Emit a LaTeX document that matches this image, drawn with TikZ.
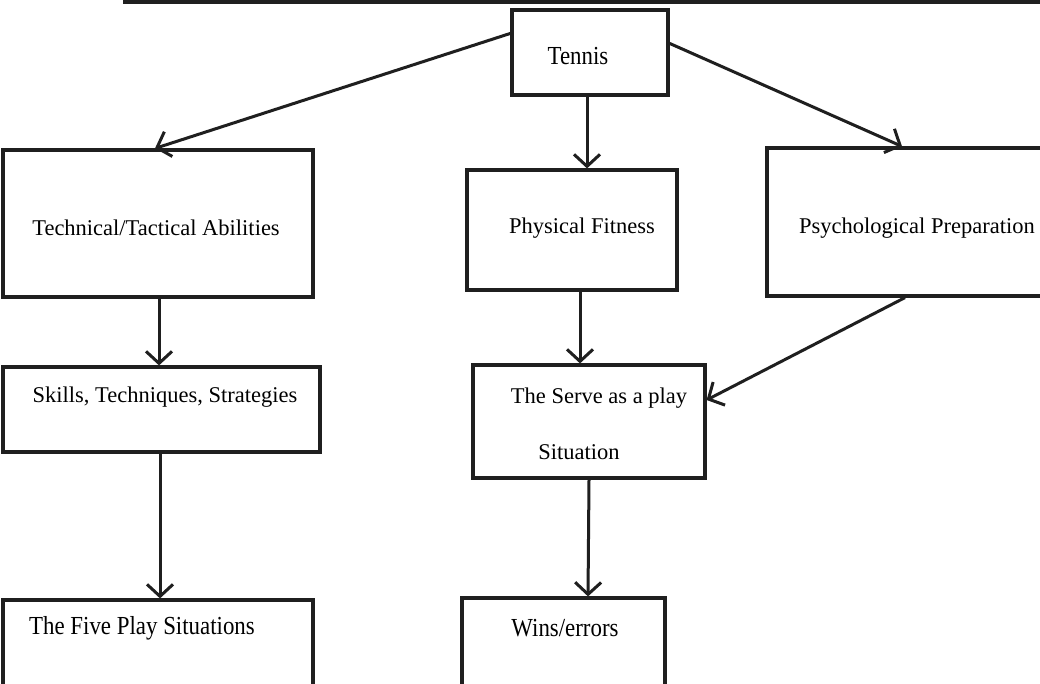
\documentclass[tikz,border=0pt]{standalone}
\usepackage{fontspec}
\setmainfont{Liberation Serif}
\newfontfamily\condfont[FakeStretch=0.88]{Liberation Serif}
\usetikzlibrary{arrows.meta}
\begin{document}
\begin{tikzpicture}[x=1pt,y=-1pt,
  box/.style={draw=black!88,line width=3.2pt,inner sep=0pt,fill=none},
  lbl/.style={font=\fontsize{22.5}{26}\selectfont,inner sep=0pt,text=black},
  clbl/.style={font=\condfont\fontsize{26}{30}\selectfont,inner sep=0pt,text=black},
  conn/.style={draw=black!88,line width=3pt,-{Straight Barb[length=12pt,width=26pt,line width=3pt]}}]
\useasboundingbox (0,0) rectangle (1040,684);
\clip (0,0) rectangle (1040,684);
\fill[white] (0,0) rectangle (1040,684);
% top rule
\fill[black!88] (123,0) rectangle (1040,4);
% boxes
\node[box,minimum width=156pt,minimum height=85pt] (tennis) at (590,52.5) {};
\node[box,minimum width=310pt,minimum height=147pt] (tech) at (158,223.5) {};
\node[box,minimum width=210pt,minimum height=120pt] (phys) at (572,230) {};
\node[box,minimum width=290pt,minimum height=148pt] (psych) at (912,222) {};
\node[box,minimum width=317pt,minimum height=85pt] (skills) at (161.5,409.5) {};
\node[box,minimum width=232pt,minimum height=113pt] (serve) at (589,421.5) {};
\node[box,minimum width=310pt,minimum height=100pt] (five) at (158,650) {};
\node[box,minimum width=203pt,minimum height=100pt] (wins) at (563.5,648) {};
% labels
\node[clbl] (tennisT) at (578,56) {Tennis};
\node[lbl] (techT) at (156,228) {Technical/Tactical Abilities};
\node[lbl] (physT) at (582,228) {Physical Fitness};
\node[lbl] (psychT) at (917,228) {Psychological Preparation};
\node[lbl] (skillsT) at (165,397) {Skills, Techniques, Strategies};
\node[lbl] (serveT1) at (599,398) {The Serve as a play};
\node[lbl] (serveT2) at (579,452) {Situation};
\node[clbl] (fiveT) at (142,628) {The Five Play Situations};
\node[clbl] (winsT) at (565,628) {Wins/errors};
% connectors
\coordinate (tL) at ([yshift=-25pt]tennis.north west);
\coordinate (tR) at ([yshift=-35pt]tennis.north east);
\draw[conn] (tL) -- ([xshift=-3pt]tech.north);
\draw[conn] (tR) -- ([xshift=-10pt]psych.north);
\draw[conn] ([xshift=-3pt]tennis.south) -- ([xshift=15pt]phys.north);
\draw[conn] ([xshift=1pt]tech.south) -- ([xshift=-2.5pt]skills.north);
\draw[conn] ([xshift=-1.5pt]skills.south) -- ([xshift=2pt]five.north);
\draw[conn] ([xshift=8pt]phys.south) -- ([xshift=-9pt]serve.north);
\draw[conn] ([xshift=-7pt]psych.south) -- ([yshift=21.5pt]serve.east);
\draw[conn] (serve.south) -- ([xshift=24.5pt]wins.north);
\end{tikzpicture}
\end{document}
